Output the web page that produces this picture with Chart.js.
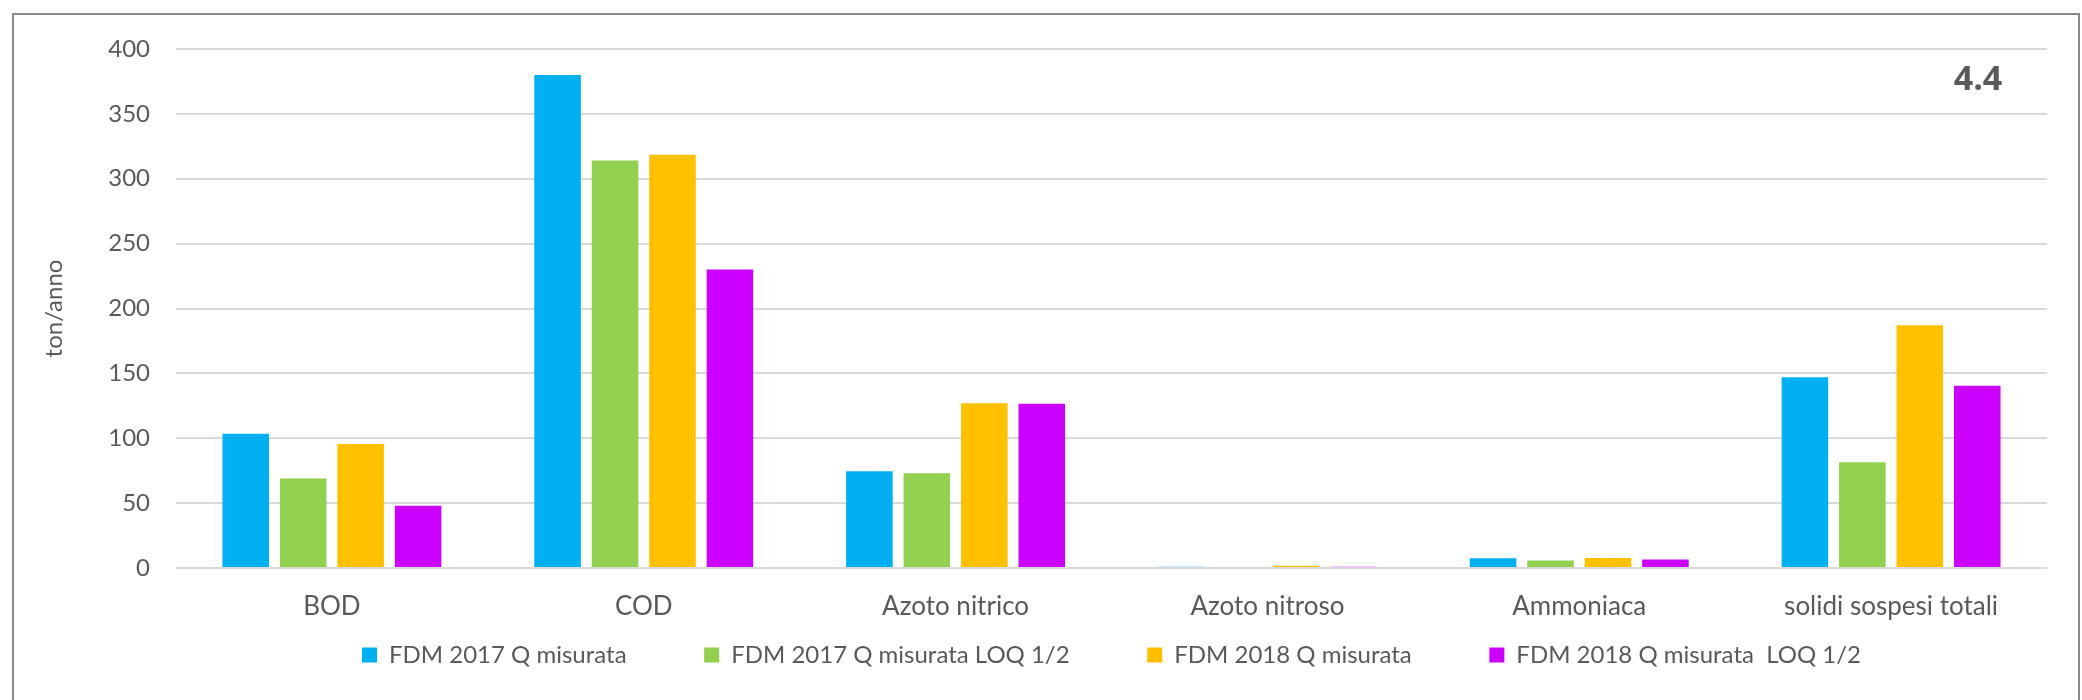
<!DOCTYPE html>
<html>
<head>
<meta charset="utf-8">
<script src="https://cdn.jsdelivr.net/npm/chart.js@4.4.0/dist/chart.umd.min.js"></script>
<style>
  html, body { margin: 0; padding: 0; background: #fff; }
  #wrap { position: relative; width: 2082px; height: 700px; overflow: hidden; }
  #frame {
    position: absolute; left: 12px; top: 13px; width: 2064px; height: 720px;
    border: 2px solid #8a8a8a; pointer-events: none;
  }
</style>
</head>
<body>
<div id="wrap">
  <canvas id="chart" width="2082" height="700"></canvas>
  <div id="frame"></div>
</div>
<script>
// categories and series (ton/anno)
const categories = ['BOD', 'COD', 'Azoto nitrico', 'Azoto nitroso', 'Ammoniaca', 'solidi sospesi totali'];
const seriesNames = ['FDM 2017 Q misurata', 'FDM 2017 Q misurata LOQ 1/2', 'FDM 2018 Q misurata', 'FDM 2018 Q misurata  LOQ 1/2'];
const fdm2017 = [103.5, 380, 74.5, 1, 7.5, 147];
const fdm2017Loq = [69, 314, 73, 0, 5.7, 81.5];
const fdm2018 = [95.5, 318.5, 127, 1.8, 7.8, 187];
const fdm2018Loq = [48, 230, 126.5, 1, 6.5, 140.5];
const yTicks = [0, 50, 100, 150, 200, 250, 300, 350, 400];

const colors = ['#00B0F0', '#92D050', '#FFC000', '#CC00FF'];
const textColor = '#595959';
const gridColor = '#d9d9d9';
const fontFamily = 'Lato, "DejaVu Sans", sans-serif';

const seriesValues = [fdm2017, fdm2017Loq, fdm2018, fdm2018Loq];

// "4.4" tag in the upper right corner
const cornerTag = {
  id: 'cornerTag',
  afterDraw(chart) {
    const ctx = chart.ctx;
    ctx.save();
    ctx.font = 'bold 34px "Open Sans", sans-serif';
    ctx.fillStyle = textColor;
    ctx.textAlign = 'center';
    ctx.textBaseline = 'middle';
    ctx.fillText('4.4', 1978, 80);
    ctx.restore();
  }
};

new Chart(document.getElementById('chart').getContext('2d'), {
  type: 'bar',
  data: {
    labels: categories,
    datasets: seriesNames.map((name, i) => ({
      label: name,
      data: seriesValues[i],
      backgroundColor: colors[i],
      borderWidth: 0,
      categoryPercentage: 0.737,
      barPercentage: 0.81
    }))
  },
  options: {
    responsive: false,
    animation: false,
    layout: { padding: { top: 49, right: 35, bottom: 23, left: 0 } },
    scales: {
      x: {
        grid: { display: false },
        border: { display: false },
        ticks: {
          color: textColor,
          font: { family: fontFamily, size: 26 },
          padding: 15,
          maxRotation: 0
        },
        afterFit(scale) { scale.height = 65; }
      },
      y: {
        min: 0,
        max: 400,
        afterBuildTicks(scale) { scale.ticks = yTicks.map(v => ({ value: v })); },
        grid: { color: gridColor, lineWidth: 2, drawTicks: false },
        border: { display: false },
        ticks: {
          color: textColor,
          font: { family: fontFamily, size: 24 },
          padding: 26
        },
        title: {
          display: true,
          text: 'ton/anno',
          color: textColor,
          font: { family: fontFamily, size: 24 },
          padding: { top: 40, bottom: 0 }
        },
        afterFit(scale) { scale.width = 176; }
      }
    },
    plugins: {
      legend: {
        position: 'bottom',
        fullSize: false,
        labels: {
          color: textColor,
          font: { family: fontFamily, size: 24 },
          boxWidth: 15,
          boxHeight: 15,
          padding: 10,
          generateLabels(chart) {
            const items = Chart.defaults.plugins.legend.labels.generateLabels(chart);
            items.forEach((item, i) => {
              if (i < items.length - 1) item.text = item.text + ' '.repeat(11);
            });
            return items;
          }
        }
      },
      tooltip: { enabled: false }
    }
  },
  plugins: [cornerTag]
});
</script>
</body>
</html>
